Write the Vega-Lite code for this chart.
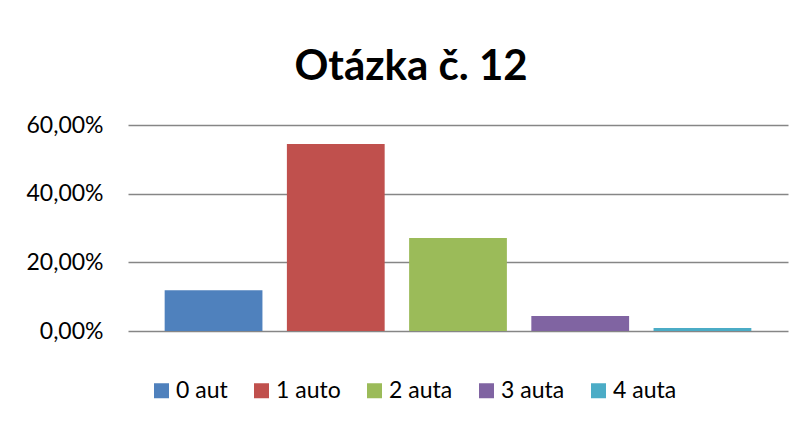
{
  "$schema": "https://vega.github.io/schema/vega-lite/v6.json",
  "width": 660,
  "height": 206,
  "autosize": "none",
  "padding": {"left": 128, "top": 125, "right": 23, "bottom": 90},
  "background": "white",
  "title": {
    "text": "Otázka č. 12",
    "font": "Lato",
    "fontSize": 42,
    "fontWeight": "bold",
    "color": "#000000",
    "offset": 25,
    "dx": -47
  },
  "data": {
    "values": [
      {"kategorie": "0 aut", "podil": 0.119},
      {"kategorie": "1 auto", "podil": 0.545},
      {"kategorie": "2 auta", "podil": 0.271},
      {"kategorie": "3 auta", "podil": 0.044},
      {"kategorie": "4 auta", "podil": 0.009}
    ]
  },
  "mark": {"type": "bar"},
  "encoding": {
    "x": {
      "field": "kategorie",
      "type": "nominal",
      "sort": null,
      "axis": null,
      "scale": {"paddingInner": 0.2, "paddingOuter": 0.3}
    },
    "y": {
      "field": "podil",
      "type": "quantitative",
      "scale": {"domain": [0, 0.6], "nice": false},
      "axis": {
        "title": null,
        "values": [0, 0.2, 0.4, 0.6],
        "labelExpr": "replace(format(datum.value, '.2%'), '.', ',')",
        "domain": false,
        "ticks": false,
        "tickSize": 0,
        "labelPadding": 25,
        "labelFont": "Lato",
        "labelFontSize": 23,
        "labelColor": "#000000",
        "grid": true,
        "gridColor": "#868686",
        "gridWidth": 1.6
      }
    },
    "color": {
      "field": "kategorie",
      "type": "nominal",
      "sort": null,
      "scale": {
        "domain": ["0 aut", "1 auto", "2 auta", "3 auta", "4 auta"],
        "range": ["#4F81BD", "#C0504D", "#9BBB59", "#8064A2", "#4BACC6"]
      },
      "legend": {
        "title": null,
        "orient": "none",
        "direction": "horizontal",
        "columns": 5,
        "legendX": 22,
        "legendY": 254,
        "symbolType": "square",
        "symbolSize": 225,
        "symbolStrokeWidth": 0,
        "symbolOpacity": 1,
        "labelOffset": 3,
        "columnPadding": 22,
        "labelFont": "Lato",
        "labelFontSize": 23,
        "labelColor": "#000000"
      }
    }
  },
  "config": {
    "view": {"stroke": null},
    "axis": {"zindex": 0}
  }
}
